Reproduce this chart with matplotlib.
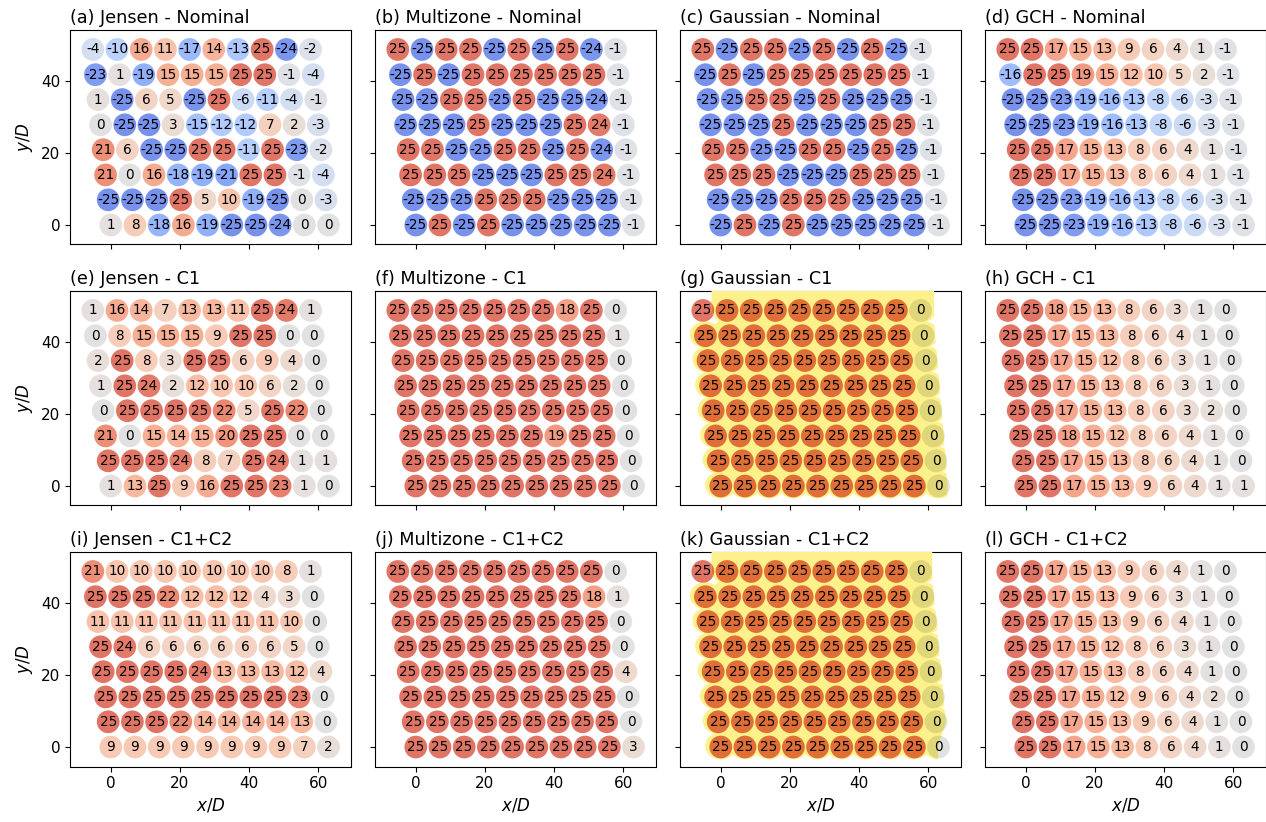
import numpy as np
import matplotlib
matplotlib.use("Agg")
import matplotlib.pyplot as plt
from matplotlib import colors as mcolors
from matplotlib.path import Path

# Optimal yaw angles (deg) per turbine; each block lists the rows from the top row down
jensen_nominal = [
    [-4, -10, 16, 11, -17, 14, -13, 25, -24, -2],
    [-23, 1, -19, 15, 15, 15, 25, 25, -1, -4],
    [1, -25, 6, 5, -25, 25, -6, -11, -4, -1],
    [0, -25, -25, 3, -15, -12, -12, 7, 2, -3],
    [21, 6, -25, -25, 25, 25, -11, 25, -23, -2],
    [21, 0, 16, -18, -19, -21, 25, 25, -1, -4],
    [-25, -25, -25, 25, 5, 10, -19, -25, 0, -3],
    [1, 8, -18, 16, -19, -25, -25, -24, 0, 0],
]
multizone_nominal = [
    [25, -25, 25, 25, -25, 25, -25, 25, -24, -1],
    [-25, 25, -25, 25, 25, 25, 25, 25, 25, -1],
    [-25, -25, 25, 25, -25, 25, -25, -25, -24, -1],
    [-25, -25, -25, 25, -25, -25, -25, 25, 24, -1],
    [25, 25, -25, -25, 25, 25, -25, 25, -24, -1],
    [25, 25, 25, -25, -25, -25, 25, 25, 24, -1],
    [-25, -25, -25, 25, 25, 25, -25, -25, -25, -1],
    [-25, 25, -25, 25, -25, -25, -25, -25, -25, -1],
]
gaussian_nominal = [
    [25, -25, 25, 25, -25, 25, -25, 25, -25, -1],
    [-25, 25, -25, 25, 25, 25, 25, 25, 25, -1],
    [-25, -25, 25, 25, -25, 25, -25, -25, -25, -1],
    [-25, -25, -25, 25, -25, -25, -25, 25, 25, -1],
    [25, 25, -25, -25, 25, 25, -25, 25, -25, -1],
    [25, 25, 25, -25, -25, -25, 25, 25, 25, -1],
    [-25, -25, -25, 25, 25, 25, -25, -25, -25, -1],
    [-25, 25, -25, 25, -25, -25, -25, -25, -25, -1],
]
gch_nominal = [
    [25, 25, 17, 15, 13, 9, 6, 4, 1, -1],
    [-16, 25, 25, 19, 15, 12, 10, 5, 2, -1],
    [-25, -25, -23, -19, -16, -13, -8, -6, -3, -1],
    [-25, -25, -23, -19, -16, -13, -8, -6, -3, -1],
    [25, 25, 17, 15, 13, 8, 6, 4, 1, -1],
    [25, 25, 17, 15, 13, 8, 6, 4, 1, -1],
    [-25, -25, -23, -19, -16, -13, -8, -6, -3, -1],
    [-25, -25, -23, -19, -16, -13, -8, -6, -3, -1],
]
jensen_c1 = [
    [1, 16, 14, 7, 13, 13, 11, 25, 24, 1],
    [0, 8, 15, 15, 15, 9, 25, 25, 0, 0],
    [2, 25, 8, 3, 25, 25, 6, 9, 4, 0],
    [1, 25, 24, 2, 12, 10, 10, 6, 2, 0],
    [0, 25, 25, 25, 25, 22, 5, 25, 22, 0],
    [21, 0, 15, 14, 15, 20, 25, 25, 0, 0],
    [25, 25, 25, 24, 8, 7, 25, 24, 1, 1],
    [1, 13, 25, 9, 16, 25, 25, 23, 1, 0],
]
multizone_c1 = [
    [25, 25, 25, 25, 25, 25, 25, 18, 25, 0],
    [25, 25, 25, 25, 25, 25, 25, 25, 25, 1],
    [25, 25, 25, 25, 25, 25, 25, 25, 25, 0],
    [25, 25, 25, 25, 25, 25, 25, 25, 25, 0],
    [25, 25, 25, 25, 25, 25, 25, 25, 25, 0],
    [25, 25, 25, 25, 25, 25, 19, 25, 25, 0],
    [25, 25, 25, 25, 25, 25, 25, 25, 25, 0],
    [25, 25, 25, 25, 25, 25, 25, 25, 25, 0],
]
gaussian_c1 = [
    [25, 25, 25, 25, 25, 25, 25, 25, 25, 0],
    [25, 25, 25, 25, 25, 25, 25, 25, 25, 0],
    [25, 25, 25, 25, 25, 25, 25, 25, 25, 0],
    [25, 25, 25, 25, 25, 25, 25, 25, 25, 0],
    [25, 25, 25, 25, 25, 25, 25, 25, 25, 0],
    [25, 25, 25, 25, 25, 25, 25, 25, 25, 0],
    [25, 25, 25, 25, 25, 25, 25, 25, 25, 0],
    [25, 25, 25, 25, 25, 25, 25, 25, 25, 0],
]
gch_c1 = [
    [25, 25, 18, 15, 13, 8, 6, 3, 1, 0],
    [25, 25, 17, 15, 13, 8, 6, 4, 1, 0],
    [25, 25, 17, 15, 12, 8, 6, 3, 1, 0],
    [25, 25, 17, 15, 13, 8, 6, 3, 1, 0],
    [25, 25, 17, 15, 13, 8, 6, 3, 2, 0],
    [25, 25, 18, 15, 12, 8, 6, 4, 1, 0],
    [25, 25, 17, 15, 13, 8, 6, 4, 1, 0],
    [25, 25, 17, 15, 13, 9, 6, 4, 1, 1],
]
jensen_c1c2 = [
    [21, 10, 10, 10, 10, 10, 10, 10, 8, 1],
    [25, 25, 25, 22, 12, 12, 12, 4, 3, 0],
    [11, 11, 11, 11, 11, 11, 11, 11, 10, 0],
    [25, 24, 6, 6, 6, 6, 6, 6, 5, 0],
    [25, 25, 25, 25, 24, 13, 13, 13, 12, 4],
    [25, 25, 25, 25, 25, 25, 25, 25, 23, 0],
    [25, 25, 25, 22, 14, 14, 14, 14, 13, 0],
    [9, 9, 9, 9, 9, 9, 9, 9, 7, 2],
]
multizone_c1c2 = [
    [25, 25, 25, 25, 25, 25, 25, 25, 25, 0],
    [25, 25, 25, 25, 25, 25, 25, 25, 18, 1],
    [25, 25, 25, 25, 25, 25, 25, 25, 25, 0],
    [25, 25, 25, 25, 25, 25, 25, 25, 25, 0],
    [25, 25, 25, 25, 25, 25, 25, 25, 25, 4],
    [25, 25, 25, 25, 25, 25, 25, 25, 25, 0],
    [25, 25, 25, 25, 25, 25, 25, 25, 25, 0],
    [25, 25, 25, 25, 25, 25, 25, 25, 25, 3],
]
gaussian_c1c2 = [
    [25, 25, 25, 25, 25, 25, 25, 25, 25, 0],
    [25, 25, 25, 25, 25, 25, 25, 25, 25, 0],
    [25, 25, 25, 25, 25, 25, 25, 25, 25, 0],
    [25, 25, 25, 25, 25, 25, 25, 25, 25, 0],
    [25, 25, 25, 25, 25, 25, 25, 25, 25, 0],
    [25, 25, 25, 25, 25, 25, 25, 25, 25, 0],
    [25, 25, 25, 25, 25, 25, 25, 25, 25, 0],
    [25, 25, 25, 25, 25, 25, 25, 25, 25, 0],
]
gch_c1c2 = [
    [25, 25, 17, 15, 13, 9, 6, 4, 1, 0],
    [25, 25, 17, 15, 13, 9, 6, 3, 1, 0],
    [25, 25, 17, 15, 13, 9, 6, 4, 1, 0],
    [25, 25, 17, 15, 12, 8, 6, 3, 1, 0],
    [25, 25, 17, 15, 13, 8, 6, 4, 1, 0],
    [25, 25, 17, 15, 12, 9, 6, 4, 2, 0],
    [25, 25, 17, 15, 13, 9, 6, 4, 1, 0],
    [25, 25, 17, 15, 13, 8, 6, 4, 1, 0],
]

models = ["Jensen", "Multizone", "Gaussian", "GCH"]
cases = ["Nominal", "C1", "C1+C2"]
panel_letters = "abcdefghijkl"
yaw_tables = [
    [jensen_nominal, multizone_nominal, gaussian_nominal, gch_nominal],
    [jensen_c1, multizone_c1, gaussian_c1, gch_c1],
    [jensen_c1c2, multizone_c1c2, gaussian_c1c2, gch_c1c2],
]

# Turbine layout (x/D, y/D): 10 columns, 8 slanted rows, top row first
column_x = [0.0, 7.0, 14.0, 21.0, 28.0, 35.0, 42.0, 49.0, 56.0, 63.0]
row_y = [48.7, 41.7, 34.8, 27.8, 20.9, 13.9, 7.0, 0.0]
row_offset = [-5.2, -4.45, -3.7, -2.95, -2.2, -1.5, -0.75, 0.0]

# Highlighted block in two panels: how far the marking reaches past the last
# column, row by row (x/D), top row first
highlight_reach = {
    (1, 2): [3.9, 3.5, 3.4, 3.2, 3.1, 3.0, 2.9, 2.6],
    (2, 2): [3.4, 3.1, 3.2, 3.0, 3.1, 2.9, 2.9, -0.2],
}
HIGHLIGHT = np.array([0.988, 0.945, 0.54])

tx = np.array([[cx + off for cx in column_x] for off in row_offset])
ty = np.array([[ry] * len(column_x) for ry in row_y])

cmap = plt.get_cmap("coolwarm")
norm = mcolors.Normalize(vmin=-33, vmax=33)
MARK_ALPHA = 0.86
XLIM = (-11.8, 69.5)
YLIM = (-5.4, 54.1)


def turbine_colours(values):
    """Colormap colours laid semi-transparently on a white page."""
    rgb = cmap(norm(values))[:, :3]
    return MARK_ALPHA * rgb + (1 - MARK_ALPHA)


def highlight_region(ax, reach):
    """Fill the highlight round every turbine except the top-left one; return its outline."""
    gx, gy = np.meshgrid(np.linspace(-14, 72, 1000), np.linspace(-8, 58, 800))
    rx, ry, lift = 4.5, 3.7, 0.3
    inside = np.zeros(gx.shape, dtype=bool)
    nr, nc = tx.shape
    for i in range(nr):
        for j in range(nc):
            if i == 0 and j == 0:
                continue
            dy = gy - (ty[i, j] + lift)
            if i == 0:
                dy = np.minimum(dy, 0.0)  # top row marking runs up to the frame
            inside |= ((gx - tx[i, j]) / rx) ** 2 + (dy / ry) ** 2 <= 1.0
    hull = Path([(tx[0, 1], ty[0, 1]), (tx[0, -1], ty[0, -1]), (tx[-1, -1], ty[-1, -1]),
                 (tx[-1, 0], ty[-1, 0]), (tx[1, 0], ty[1, 0]), (tx[0, 1], ty[0, 1])])
    pts = np.column_stack([gx.ravel(), gy.ravel()])
    inside |= hull.contains_points(pts).reshape(gx.shape)
    # right-hand limit follows the last column
    edge_y = ty[::-1, -1]
    edge_x = (tx[:, -1] + np.array(reach))[::-1]
    inside &= gx <= np.interp(gy, edge_y, edge_x)
    cs = ax.contourf(gx, gy, inside.astype(float), levels=[0.5, 1.5],
                     colors=[HIGHLIGHT], zorder=3, antialiased=True)
    return cs.get_paths()[0]


W, H = 1266, 822
fig = plt.figure(figsize=(W / 100, H / 100), dpi=100)
col_left = [70, 375, 680, 985]
row_top = [30, 291, 552]
ax_w, ax_h = 281, 214.5
MARKER_S = 268

for r in range(3):
    for c in range(4):
        left = col_left[c]
        top = row_top[r]
        ax = fig.add_axes([left / W, 1 - (top + ax_h) / H, ax_w / W, ax_h / H])
        yaw = np.array(yaw_tables[r][c]).ravel()
        face = turbine_colours(yaw)

        ax.scatter(tx.ravel(), ty.ravel(), s=MARKER_S, c=face, linewidths=0, zorder=2)

        if (r, c) in highlight_reach:
            region = highlight_region(ax, highlight_reach[(r, c)])
            # turbines seen through the highlighter take on its tint
            tinted = ax.scatter(tx.ravel(), ty.ravel(), s=MARKER_S, c=face * HIGHLIGHT,
                                linewidths=0, zorder=4)
            tinted.set_clip_path(region, ax.transData)

        for x, y, v in zip(tx.ravel(), ty.ravel(), yaw):
            ax.text(x, y, f"{v:d}", ha="center", va="center", fontsize=9.8, zorder=5)

        ax.set_xlim(*XLIM)
        ax.set_ylim(*YLIM)
        ax.set_xticks([0, 20, 40, 60])
        ax.set_yticks([0, 20, 40])
        ax.tick_params(labelsize=11, labelbottom=(r == 2), labelleft=(c == 0))
        ax.set_title(f"({panel_letters[r * 4 + c]}) {models[c]} - {cases[r]}",
                     loc="left", fontsize=12.7, pad=5)
        if r == 2:
            ax.set_xlabel("$x/D$", fontsize=12)
        if c == 0:
            ax.set_ylabel("$y/D$", fontsize=12)

fig.savefig("out.png", dpi=100)
